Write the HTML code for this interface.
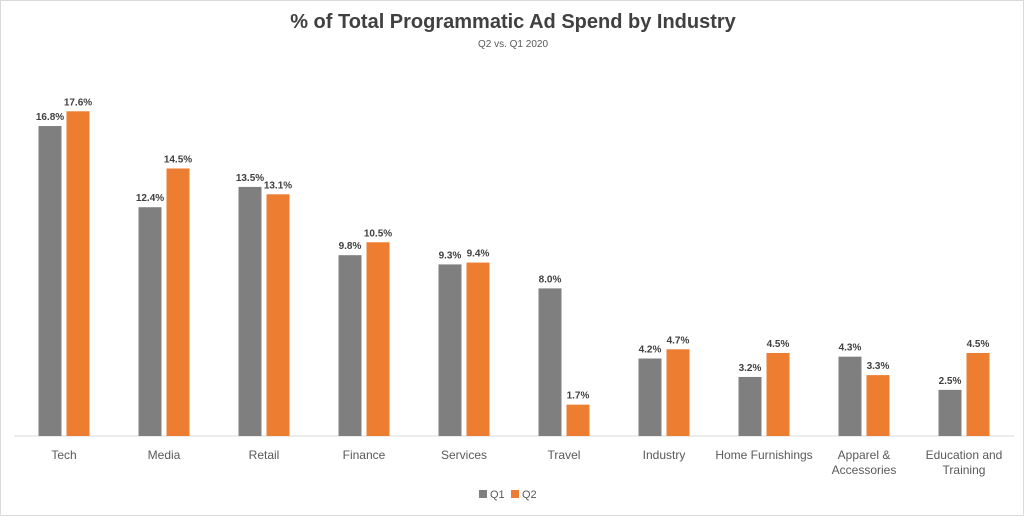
<!DOCTYPE html>
<html><head><meta charset="utf-8"><style>
body{margin:0;background:#fff;}
#wrap{width:1022px;height:514px;border:1px solid #d9d9d9;position:relative;font-family:"Liberation Sans",sans-serif;}
</style></head><body>
<div id="wrap">
<svg id="chart" width="1022" height="514">
<text x="512" y="27" text-anchor="middle" font-size="20" font-weight="bold" fill="#404040">% of Total Programmatic Ad Spend by Industry</text>
<text x="512" y="46" text-anchor="middle" font-size="10" fill="#595959">Q2 vs. Q1 2020</text>
<line x1="13" x2="1013" y1="435" y2="435" stroke="#d9d9d9"/>
<g id="bars"></g>
<g>
<rect x="478" y="489" width="8" height="8" fill="#7f7f7f"/>
<text x="489" y="497" font-size="11" fill="#595959">Q1</text>
<rect x="510" y="489" width="8" height="8" fill="#ed7d31"/>
<text x="521" y="497" font-size="11" fill="#595959">Q2</text>
</g>
</svg>
</div>
<script>
const categories=[["Tech"],["Media"],["Retail"],["Finance"],["Services"],["Travel"],["Industry"],["Home Furnishings"],["Apparel &","Accessories"],["Education and","Training"]];
const q1Values=[16.8,12.4,13.5,9.8,9.3,8.0,4.2,3.2,4.3,2.5];
const q2Values=[17.6,14.5,13.1,10.5,9.4,1.7,4.7,4.5,3.3,4.5];
const NS="http://www.w3.org/2000/svg";
const g=document.getElementById('bars');
const x0=13,band=100,base=435,pxPer=18.45,bw=23,gap=5;
const y=v=>base-v*pxPer;
function mk(t,a){const e=document.createElementNS(NS,t);for(const k in a)e.setAttribute(k,a[k]);return e;}
categories.forEach((c,i)=>{
  const cx=x0+band*i+band/2;
  [[q1Values[i],'#7f7f7f',cx-gap/2-bw,'q1'],[q2Values[i],'#ed7d31',cx+gap/2,'q2']].forEach(([v,col,x,s])=>{
    const r=mk('rect',{x:x,y:y(v),width:bw,height:base-y(v),fill:col});
    
    
    g.appendChild(r);
    const t=mk('text',{x:x+bw/2,y:y(v)-6,'text-anchor':'middle','font-size':10,'font-weight':'bold',fill:'#404040'});
    t.textContent=v.toFixed(1)+'%';
    
    
    g.appendChild(t);
  });
  c.forEach((line,j)=>{
    const t=mk('text',{x:cx,y:458+j*15,'text-anchor':'middle','font-size':12,fill:'#595959'});
    t.textContent=line;
    
    
    g.appendChild(t);
  });
});
</script>
</body></html>
